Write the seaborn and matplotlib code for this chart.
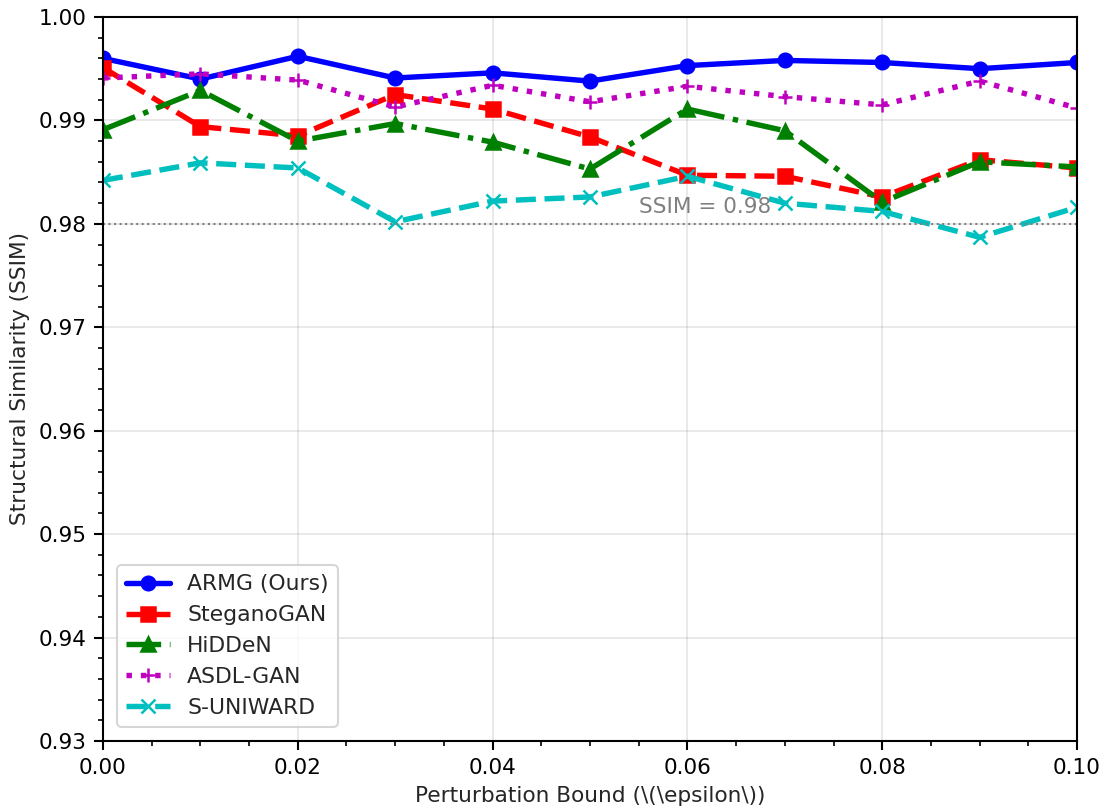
import numpy as np
import matplotlib
matplotlib.use("Agg")
import matplotlib.pyplot as plt
from matplotlib.ticker import MultipleLocator
import seaborn as sns

# Perturbation bound values on the x axis
epsilon = [0.00, 0.01, 0.02, 0.03, 0.04, 0.05, 0.06, 0.07, 0.08, 0.09, 0.10]

# SSIM for each method
armg = [0.9960, 0.9940, 0.9962, 0.9941, 0.9946, 0.9938, 0.9953, 0.9958, 0.9956, 0.9950, 0.9956]
stegano_gan = [0.9951, 0.9894, 0.9885, 0.9925, 0.9911, 0.9884, 0.9847, 0.9846, 0.9826, 0.9862, 0.9854]
hidden = [0.9891, 0.9929, 0.9880, 0.9897, 0.9879, 0.9853, 0.9911, 0.9890, 0.9821, 0.9860, 0.9855]
asdl_gan = [0.9941, 0.9945, 0.9939, 0.9913, 0.9934, 0.9918, 0.9933, 0.9923, 0.9915, 0.9938, 0.9912]
s_uniward = [0.9842, 0.9859, 0.9854, 0.9802, 0.9822, 0.9826, 0.9846, 0.9820, 0.9812, 0.9787, 0.9816]

methods = ["ARMG (Ours)", "SteganoGAN", "HiDDeN", "ASDL-GAN", "S-UNIWARD"]
series = [armg, stegano_gan, hidden, asdl_gan, s_uniward]
colors = ["b", "r", "g", "m", "c"]
markers = ["o", "s", "^", "+", "x"]
linestyles = ["-", "--", "-.", ":", "--"]

sns.set_style("ticks")
plt.rcParams["font.family"] = ["DejaVu Sans"]
plt.rcParams["font.size"] = 10.4

fig = plt.figure(figsize=(1106 / 150, 809 / 150), dpi=150)
ax = fig.add_axes([0.0931, 0.0841, 0.8807, 0.8949])

for name, vals, c, m, ls in zip(methods, series, colors, markers, linestyles):
    sns.lineplot(x=epsilon, y=vals, ax=ax, color=c, marker=m, linestyle=ls,
                 linewidth=2.6, markersize=6.5, markeredgecolor=c,
                 markeredgewidth=1.2, label=name)

# Reference threshold line
ax.axhline(0.98, color="gray", linestyle=":", linewidth=1)
ax.text(0.055, 0.981, "SSIM = 0.98", color="gray", fontsize=10.4)

ax.set_xlim(0, 0.1)
ax.set_ylim(0.93, 1.0)
ax.xaxis.set_major_locator(MultipleLocator(0.02))
ax.xaxis.set_minor_locator(MultipleLocator(0.005))
ax.yaxis.set_major_locator(MultipleLocator(0.01))
ax.yaxis.set_minor_locator(MultipleLocator(0.002))
ax.xaxis.set_major_formatter(matplotlib.ticker.FormatStrFormatter("%.2f"))
ax.yaxis.set_major_formatter(matplotlib.ticker.FormatStrFormatter("%.2f"))
ax.tick_params(which="major", length=4.5, width=1, colors="black", labelsize=10.4)
ax.tick_params(which="minor", length=2.5, width=0.8, colors="black")

for side in ["top", "right", "bottom", "left"]:
    ax.spines[side].set_visible(True)
    ax.spines[side].set_color("black")
    ax.spines[side].set_linewidth(1.0)

ax.grid(True, which="major", color="gray", alpha=0.2, linewidth=0.8)
ax.set_xlabel(r"Perturbation Bound (\(\epsilon\))", fontsize=10.4)
ax.set_ylabel("Structural Similarity (SSIM)", fontsize=10.4)
ax.legend(loc="lower left", fontsize=10.5, borderaxespad=0.65)

fig.savefig("out.png", dpi=150)
